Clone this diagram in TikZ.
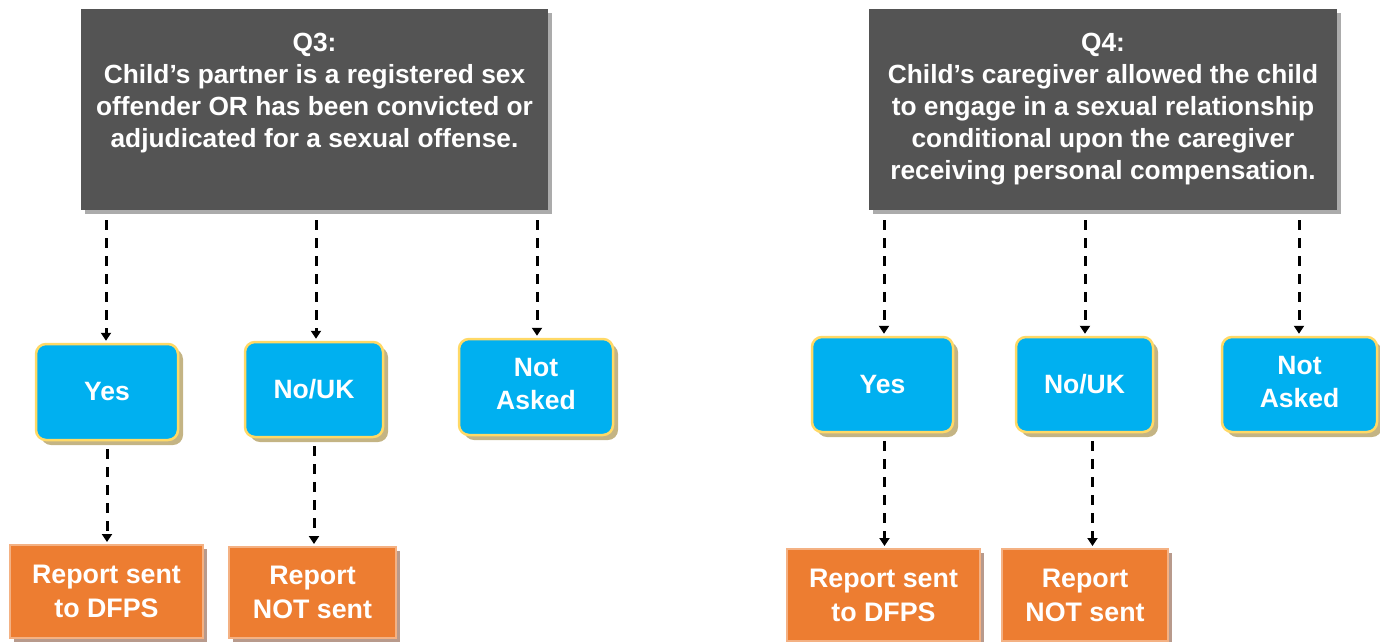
\documentclass[tikz,border=0pt]{standalone}
\usepackage{fontspec}
\setmainfont{Liberation Sans}
\usetikzlibrary{arrows.meta,shadows,calc}
\definecolor{darkbox}{HTML}{545454}
\definecolor{darkshadow}{HTML}{ABABAB}
\definecolor{bluebox}{HTML}{00B0F0}
\definecolor{blueborder}{HTML}{FFD966}
\definecolor{blueshadow}{HTML}{C4B484}
\definecolor{orangebox}{HTML}{ED7D31}
\definecolor{orangeborder}{HTML}{F4B183}
\definecolor{orangeshadow}{HTML}{B89A8C}
\tikzset{
  qbox/.style={fill=darkbox, draw=none, inner sep=0pt, anchor=north west,
    drop shadow={shadow xshift=4pt, shadow yshift=-4pt, fill=darkshadow, opacity=1}},
  qtext/.style={text=white, font=\bfseries\fontsize{26.3}{32}\selectfont, align=center, inner sep=0pt, anchor=north},
  ansbox/.style={fill=bluebox, draw=blueborder, line width=2.5pt, rounded corners=10pt,
    inner sep=0pt, text=white, font=\bfseries\fontsize{26.5}{33}\selectfont, align=center,
    drop shadow={shadow xshift=5pt, shadow yshift=-5pt, fill=blueshadow, opacity=1}},
  repbox/.style={fill=orangebox, draw=orangeborder, line width=2pt,
    inner sep=0pt, text=white, font=\bfseries\fontsize{26.8}{34}\selectfont, align=center,
    drop shadow={shadow xshift=4pt, shadow yshift=-4pt, fill=orangeshadow, opacity=1}},
  flow/.style={draw=black, line width=3pt, dash pattern=on 10pt off 8pt,
    -{Triangle[width=10pt,length=8pt]}, shorten >=2pt}
}
\begin{document}
\begin{tikzpicture}[x=1pt,y=-1pt]
\useasboundingbox (0,0) rectangle (1380,641);
% Question boxes
\node[qbox, minimum width=467pt, minimum height=201pt] (q3) at (81,9) {};
\node[qtext] (q3t) at (314.5,33) {Q3:\\Child’s partner is a registered sex\\offender OR has been convicted or\\adjudicated for a sexual offense.};
\node[qbox, minimum width=468pt, minimum height=201pt] (q4) at (869,9) {};
\node[qtext] (q4t) at (1103,33) {Q4:\\Child’s caregiver allowed the child\\to engage in a sexual relationship\\conditional upon the caregiver\\receiving personal compensation.};
% Answer boxes Q3
\node[ansbox, minimum width=142pt, minimum height=96pt] (y3) at (107,392) {Yes};
\node[ansbox, minimum width=138pt, minimum height=95pt] (n3) at (314,389.5) {No/UK};
\node[ansbox, minimum width=154pt, minimum height=96pt] (a3) at (536,387) {Not\\Asked\rule[-6pt]{0pt}{0pt}};
% Answer boxes Q4
\node[ansbox, minimum width=141pt, minimum height=95pt] (y4) at (882.5,384.5) {Yes};
\node[ansbox, minimum width=137pt, minimum height=95pt] (n4) at (1084.5,384.5) {No/UK};
\node[ansbox, minimum width=155pt, minimum height=95pt] (a4) at (1299.5,384.5) {Not\\Asked\rule[-6pt]{0pt}{0pt}};
% Report boxes
\node[repbox, minimum width=193pt, minimum height=93pt] (r3y) at (106.5,591.5) {Report sent\\to DFPS};
\node[repbox, minimum width=167pt, minimum height=91pt] (r3n) at (312.5,592.5) {Report\\NOT sent};
\node[repbox, minimum width=193pt, minimum height=92pt] (r4y) at (883.5,595) {Report sent\\to DFPS};
\node[repbox, minimum width=166pt, minimum height=92pt] (r4n) at (1085,595) {Report\\NOT sent};
% Connectors
\coordinate (s31) at ($(q3.south west)+(25,0)$);
\coordinate (s32) at ($(q3.south west)+(235,0)$);
\coordinate (s33) at ($(q3.south west)+(456,0)$);
\draw[flow] ([yshift=-10pt]s31) -- (s31 |- y3.north);
\draw[flow] ([yshift=-10pt]s32) -- (s32 |- n3.north);
\draw[flow] ([yshift=-10pt]s33) -- (s33 |- a3.north);
\coordinate (s41) at ($(q4.south west)+(15,0)$);
\coordinate (s42) at ($(q4.south west)+(216,0)$);
\coordinate (s43) at ($(q4.south west)+(430,0)$);
\draw[flow] ([yshift=-10pt]s41) -- (s41 |- y4.north);
\draw[flow] ([yshift=-10pt]s42) -- (s42 |- n4.north);
\draw[flow] ([yshift=-10pt]s43) -- (s43 |- a4.north);
\draw[flow] ([yshift=-8pt]y3.south) -- (y3.south |- r3y.north);
\draw[flow] ([yshift=-8pt]n3.south) -- (n3.south |- r3n.north);
\coordinate (b41) at ($(y4.south)+(2,0)$);
\coordinate (b42) at ($(n4.south)+(8,0)$);
\draw[flow] ([yshift=-8pt]b41) -- (b41 |- r4y.north);
\draw[flow] ([yshift=-8pt]b42) -- (b42 |- r4n.north);
\end{tikzpicture}
\end{document}
